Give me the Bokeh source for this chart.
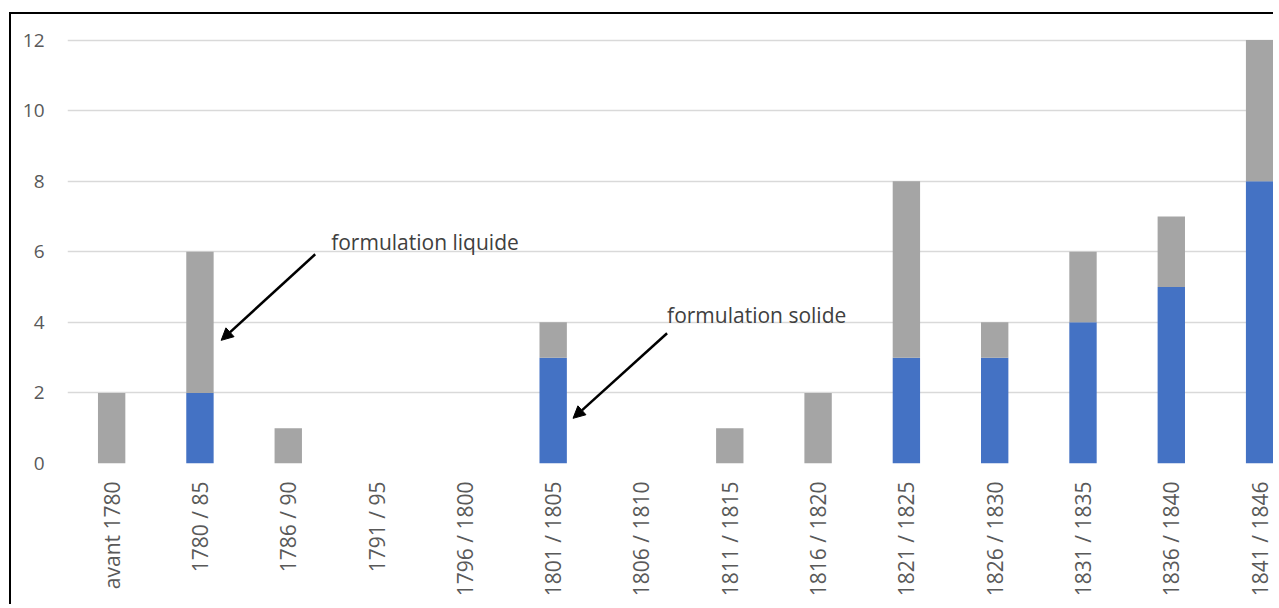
import math
from bokeh.plotting import figure
from bokeh.models import Range1d, FixedTicker, Arrow, NormalHead, ColumnDataSource
from bokeh.core.properties import value
from bokeh.embed import file_html
from bokeh.resources import INLINE

categories = ["avant 1780", "1780 / 85", "1786 / 90", "1791 / 95", "1796 / 1800",
              "1801 / 1805", "1806 / 1810", "1811 / 1815", "1816 / 1820", "1821 / 1825",
              "1826 / 1830", "1831 / 1835", "1836 / 1840", "1841 / 1846"]
solide = [0, 2, 0, 0, 0, 3, 0, 0, 0, 3, 3, 4, 5, 8]
liquide = [2, 4, 1, 0, 0, 1, 0, 1, 2, 5, 1, 2, 2, 4]
y_ticks = [0, 2, 4, 6, 8, 10, 12]

BLUE = "#4472C4"
GRAY = "#A5A5A5"
TXT = "#595959"
FONT = "Open Sans"

xs = list(range(len(categories)))
source = ColumnDataSource(dict(x=xs, solide=solide, liquide=liquide))

p = figure(width=1264, height=592,
           x_range=Range1d(-0.5, 13.18), y_range=Range1d(0, 12.3),
           output_backend="svg", toolbar_location=None,
           min_border_left=56, min_border_right=0, min_border_top=15, min_border_bottom=143)
p.styles = {"margin-left": "9px", "margin-top": "12px",
            "border-left": "2px solid #000000", "border-top": "2px solid #000000"}
p.outline_line_color = None
p.background_fill_color = "white"
p.border_fill_color = "white"

p.vbar_stack(["solide", "liquide"], x="x", width=0.31, color=[BLUE, GRAY],
             source=source, line_width=0)

# axes
p.xaxis.ticker = FixedTicker(ticks=xs)
p.xaxis.major_label_overrides = {i: c for i, c in enumerate(categories)}
p.xaxis.major_label_orientation = math.pi / 2
p.xaxis.major_label_standoff = 12
p.xaxis.major_label_text_font = FONT
p.xaxis.major_label_text_font_size = "21px"
p.xaxis.major_label_text_color = TXT
p.xaxis.axis_line_color = None
p.xaxis.major_tick_line_color = None
p.xaxis.minor_tick_line_color = None

p.yaxis.ticker = FixedTicker(ticks=y_ticks)
p.yaxis.major_label_standoff = 17
p.yaxis.major_label_text_font = FONT
p.yaxis.major_label_text_font_size = "19px"
p.yaxis.major_label_text_color = TXT
p.yaxis.axis_line_color = None
p.yaxis.major_tick_line_color = None
p.yaxis.minor_tick_line_color = None

p.xgrid.grid_line_color = None
p.ygrid.grid_line_color = "#D9D9D9"
p.ygrid.grid_line_width = 1.5

# annotations
p.add_layout(Arrow(end=NormalHead(size=12, fill_color="black", line_color="black"),
                   x_start=2.305, y_start=5.93, x_end=1.24, y_end=3.49,
                   line_color="black", line_width=2.5))
p.add_layout(Arrow(end=NormalHead(size=12, fill_color="black", line_color="black"),
                   x_start=6.29, y_start=3.69, x_end=5.225, y_end=1.28,
                   line_color="black", line_width=2.5))
p.text(x=[2.486, 6.29], y=[6.27, 4.2], text=["formulation liquide", "formulation solide"],
       text_font=value(FONT), text_font_size="21px", text_color="#404040",
       text_align="left", text_baseline="middle")

open("out.html", "w").write(file_html(p, INLINE))
